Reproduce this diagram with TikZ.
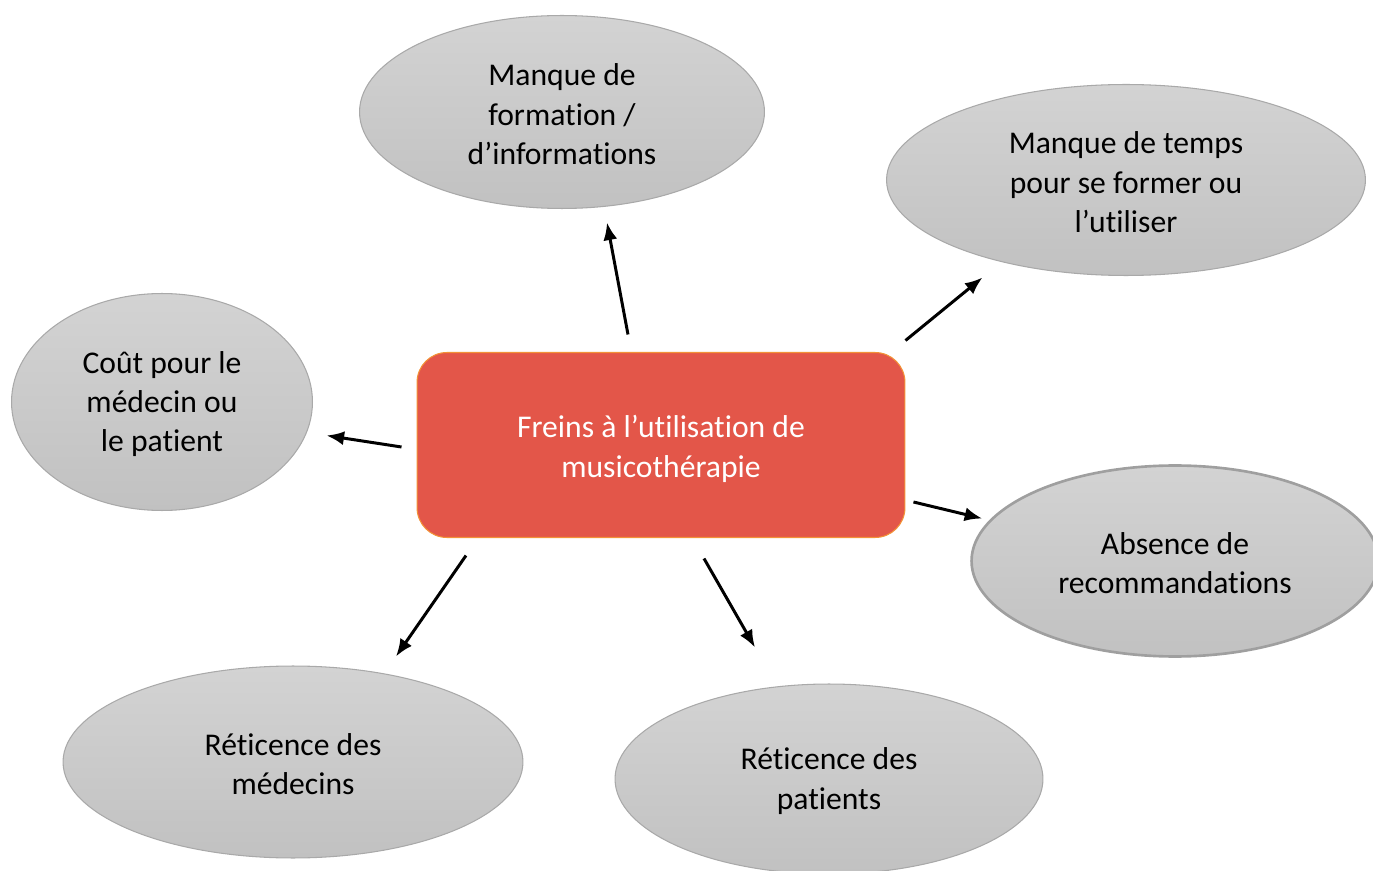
\documentclass[tikz,border=0pt]{standalone}
\usepackage{fontspec}
\setmainfont{Carlito}[RawFeature={-liga;-clig;-dlig;-calt;-rlig}]
\usetikzlibrary{arrows.meta, shapes.geometric}

\definecolor{frein-red}{HTML}{E35649}
\definecolor{frein-orange}{HTML}{F39237}
\definecolor{cloud-top}{HTML}{D3D3D3}
\definecolor{cloud-bottom}{HTML}{C1C1C1}
\definecolor{cloud-line}{HTML}{A9A9A9}

\begin{document}
\begin{tikzpicture}[
        x=0.02cm, y=-0.02cm,
        cloud/.style={
            ellipse,
            draw=cloud-line,
            line width=0.6pt,
            top color=cloud-top,
            bottom color=cloud-bottom,
            inner sep=0pt,
            align=center,
            font=\fontsize{18}{22.4}\selectfont,
        },
        frein/.style={
            draw=frein-orange,
            fill=frein-red,
            rounded corners=17pt,
            line width=0.6pt,
            inner sep=0pt,
            minimum width=9.76cm,
            minimum height=3.7cm,
            align=center,
            text=white,
            font=\fontsize{18}{22.4}\selectfont,
        },
        my-arrow/.style={
            -{Latex[length=10pt, width=8pt]},
            line width=1.7pt,
        },
    ]
    \useasboundingbox (0, 0) rectangle (1373, 871);

    \node[frein] (freins) at (661, 445) {\rule{0pt}{17pt}Freins à l’ut\kern0pt ilisat\kern0pt ion de\\musicothérapie};

    \node[cloud, minimum width=8.1cm, minimum height=3.86cm] (formation) at (562, 112)
        {\rule{0pt}{15pt}Manque de\\formation /\\d’informations};
    \node[cloud, minimum width=9.58cm, minimum height=3.82cm] (temps) at (1126, 180)
        {\rule{0pt}{15pt}Manque de temps\\pour se former ou\\l’ut\kern0pt iliser};
    \node[cloud, minimum width=6.02cm, minimum height=4.34cm] (cout) at (162, 402)
        {\rule{0pt}{15pt}Coût pour le\\médecin ou\\le pat\kern0pt ient};
    \node[cloud, minimum width=8.14cm, minimum height=3.82cm, line width=1.5pt, draw=gray!75] (absence) at (1175, 561)
        {\rule{0pt}{15pt}Absence de\\recommandat\kern0pt ions};
    \node[cloud, minimum width=9.2cm, minimum height=3.84cm] (medecins) at (293, 762)
        {\rule{0pt}{15pt}Réticence des\\médecins};
    \node[cloud, minimum width=8.56cm, minimum height=3.8cm] (patients) at (829, 779)
        {\rule{0pt}{15pt}Réticence des\\pat\kern0pt ients};

    \draw[my-arrow] ([shift={(-33, -17.5)}]freins.north) -- ([shift={(45, 13.5)}]formation.south);
    \draw[my-arrow] ([shift={(0, -11.5)}]freins.north east) -- ([shift={(-143.5, 1.5)}]temps.south);
    \draw[my-arrow] ([shift={(-15, 2)}]freins.west) -- ([shift={(13.5, 33.5)}]cout.east);
    \draw[my-arrow] ([shift={(8, 57)}]freins.east) -- ([shift={(12, -42.5)}]absence.west);
    \draw[my-arrow] ([shift={(-195, 17.5)}]freins.south) -- ([shift={(103, -9)}]medecins.north);
    \draw[my-arrow] ([shift={(43, 20.5)}]freins.south) -- ([shift={(-74, -36)}]patients.north);
\end{tikzpicture}
\end{document}
